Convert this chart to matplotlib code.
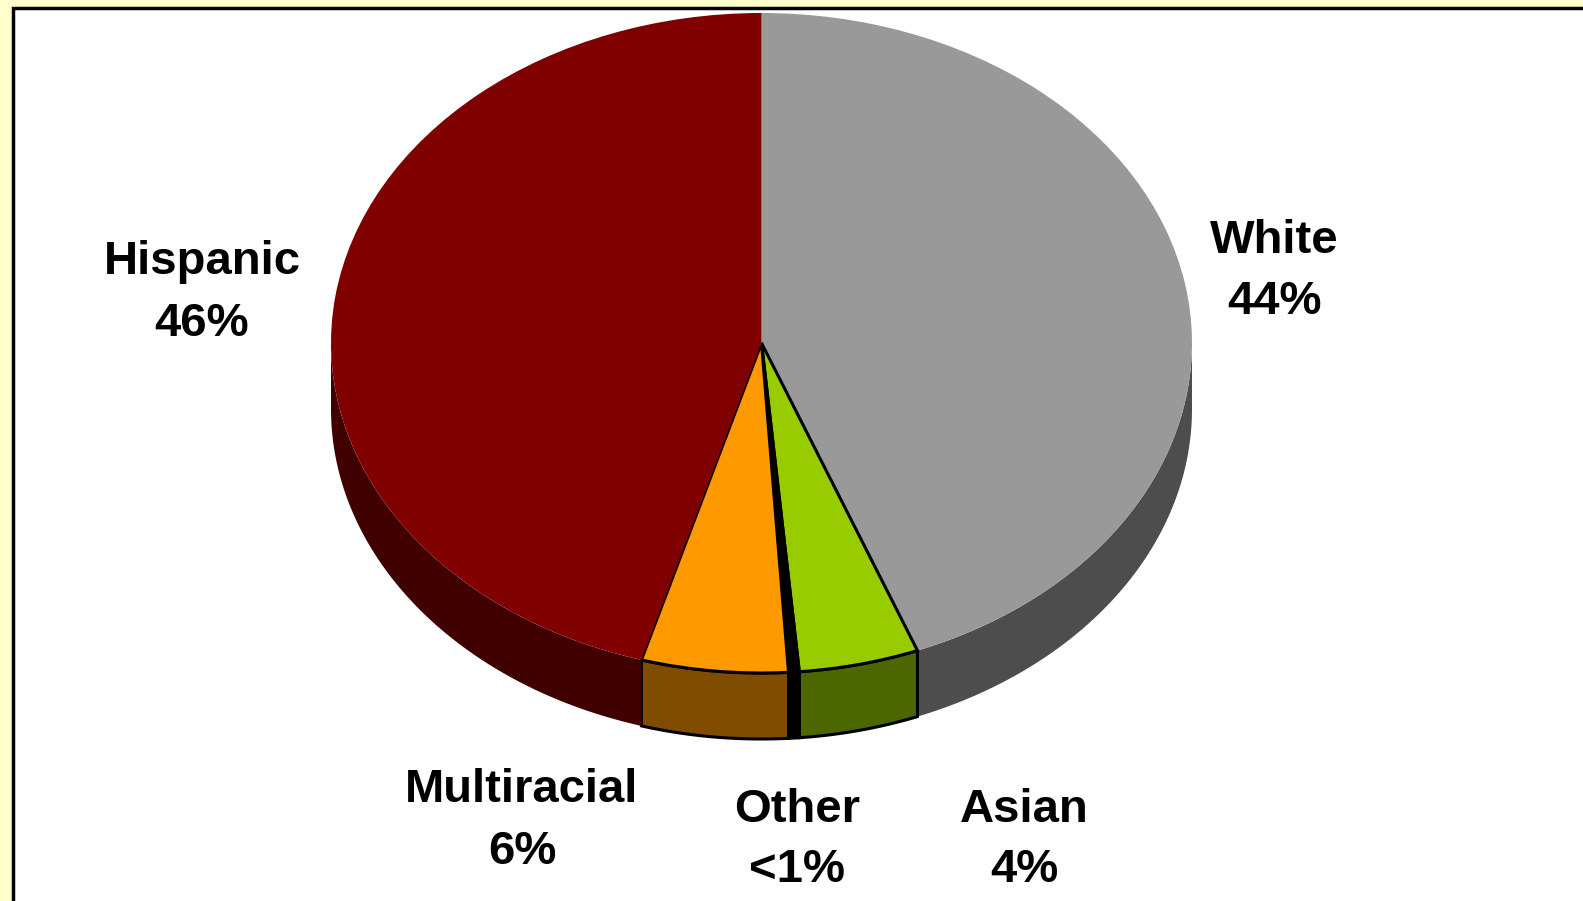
""" 3-D style pie chart of student ethnicity shares. """

import matplotlib
matplotlib.use('Agg')
import matplotlib.pyplot as plt
import numpy as np
from matplotlib.patches import Polygon, Rectangle

# Slice data, clockwise from 12 o'clock
groups = ['White', 'Asian', 'Other', 'Multiracial', 'Hispanic']
shares = [44.1, 4.5, 0.4, 5.5, 45.5]
pct_text = ['44%', '4%', '<1%', '6%', '46%']
top_colors = ['#999999', '#99CC00', '#000000', '#FF9900', '#800000']
side_colors = ['#4D4D4D', '#4C6600', '#000000', '#7F4C00', '#400000']
outlined = [False, True, True, True, False]

W, H = 1583, 901
fig = plt.figure(figsize=(W / 100, H / 100), dpi=100)
fig.patch.set_facecolor('#FFFFCC')

# white panel with black frame (runs off right/bottom edge)
frame = Rectangle((13 / W, -0.1), 1.2, (H - 8) / H + 0.1, transform=fig.transFigure,
                  facecolor='white', edgecolor='black', linewidth=2.5, zorder=-5)
fig.patches.append(frame)

# pie axes: x in [-1, 1] -> px 331..1192, y in [-1.3, 1] -> px 772..13
left_px, right_px, top_px, bot_px = 331, 1192, 13, 772
ax = fig.add_axes([left_px / W, (H - bot_px) / H, (right_px - left_px) / W, (bot_px - top_px) / H])
ax.patch.set_alpha(0)

wedges, _ = ax.pie(shares, colors=top_colors, startangle=90, counterclock=False,
                   radius=1, wedgeprops=dict(linewidth=0))
ax.set_aspect('auto')
ax.set_xlim(-1, 1)
ax.set_ylim(-1.3, 1)
ax.axis('off')

depth = 0.2
for w, side, edge in zip(wedges, side_colors, outlined):
    w.set_zorder(3)
    if edge:
        w.set_edgecolor('black')
        w.set_linewidth(2.2)
    # side wall only on the front half of the disc
    a = max(w.theta1, -180)
    b = min(w.theta2, 0)
    if b <= a:
        continue
    t = np.radians(np.linspace(a, b, 80))
    top = np.column_stack([np.cos(t), np.sin(t)])
    bottom = np.column_stack([np.cos(t[::-1]), np.sin(t[::-1]) - depth])
    wall = Polygon(np.vstack([top, bottom]), closed=True, facecolor=side,
                   edgecolor='black' if edge else 'none', linewidth=2.2 if edge else 0,
                   zorder=2)
    ax.add_patch(wall)

# labels (pixel positions of each two-line block)
label_pos = {
    'Hispanic': (202, 293),
    'White': (1274, 272),
    'Multiracial': (522, 821),
    'Other': (797, 840),
    'Asian': (1024, 840),
}

for name, pct in zip(groups, pct_text):
    x, y = label_pos[name]
    fig.text(x / W, 1 - y / H, name + '\n' + pct, ha='center', va='center',
             fontsize=34, fontweight='bold', linespacing=1.5,
             family=['Liberation Sans', 'DejaVu Sans'])

fig.savefig('out.png', dpi=100)
